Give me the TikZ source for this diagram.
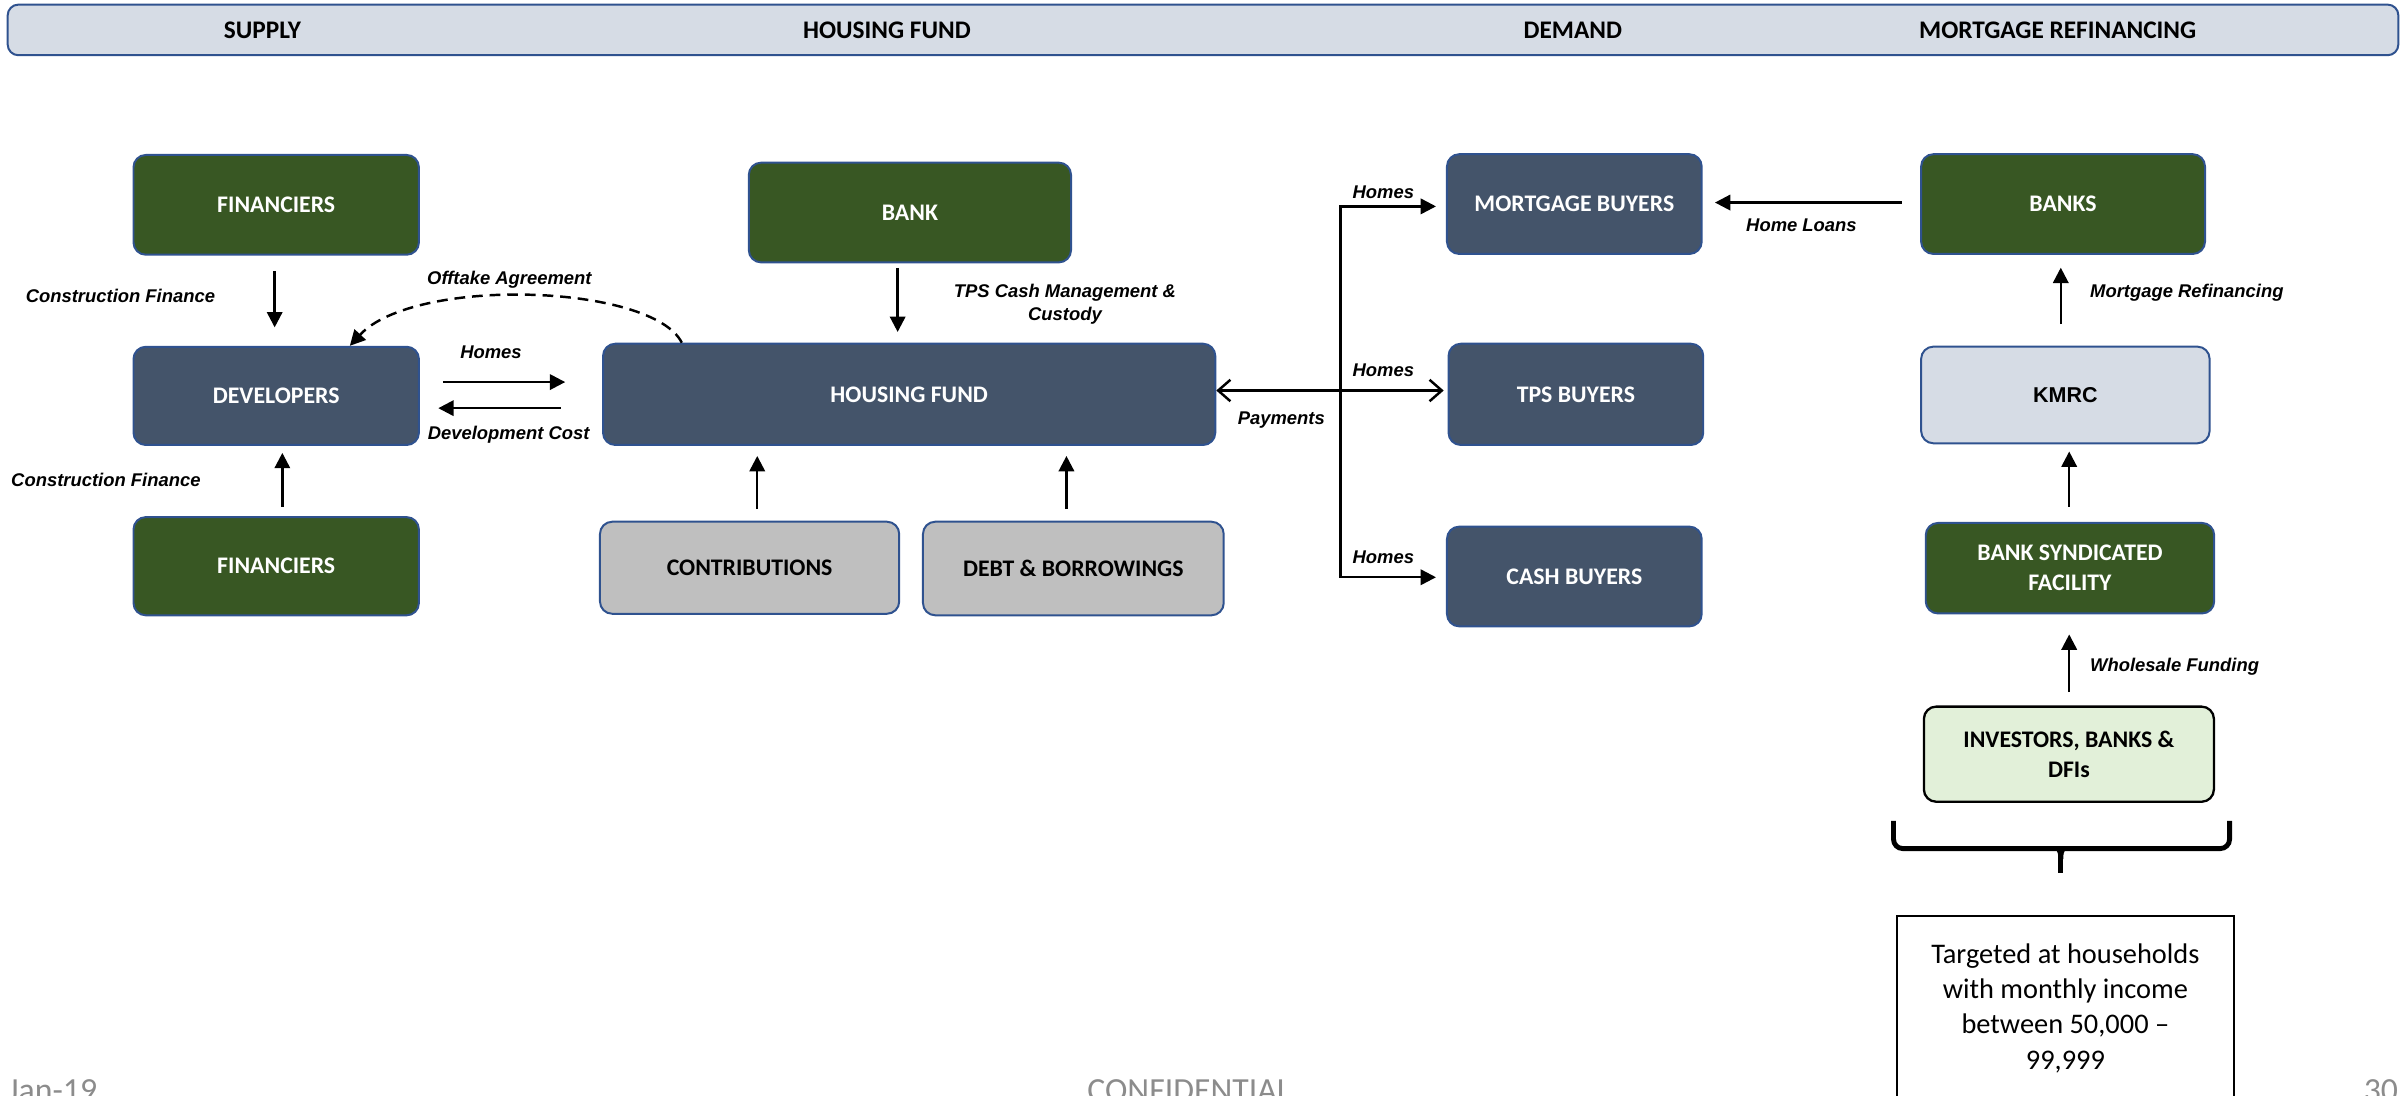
\documentclass[tikz,border=0pt]{standalone}
\usepackage{fontspec}
\setmainfont{Carlito}
\newfontfamily\arialfont{Liberation Sans}
\usetikzlibrary{arrows.meta,calc}
\definecolor{boxgreen}{HTML}{385723}
\definecolor{boxslate}{HTML}{44546A}
\definecolor{boxline}{HTML}{2F528F}
\definecolor{boxgrey}{HTML}{BFBFBF}
\definecolor{boxlight}{HTML}{D6DCE5}
\definecolor{boxmint}{HTML}{E2F0D9}
\definecolor{footgrey}{HTML}{8C8C8C}
\begin{document}
\begin{tikzpicture}[x=1pt,y=-1pt,
  base/.style={draw=boxline, line width=1.3pt, rounded corners=8pt, align=center, inner sep=0pt,
    font=\fontsize{15.5}{19.5}\selectfont\bfseries},
  greenbox/.style={base, fill=boxgreen, text=white},
  slatebox/.style={base, fill=boxslate, text=white},
  greybox/.style={base, fill=boxgrey, text=black},
  lightbox/.style={base, fill=boxlight, text=black, font=\arialfont\fontsize{14}{17}\selectfont\bfseries},
  mintbox/.style={base, draw=black, line width=1.5pt, fill=boxmint, text=black},
  hdrlbl/.style={font=\fontsize{16.5}{20}\selectfont\bfseries, inner sep=0pt},
  lbl/.style={font=\arialfont\fontsize{12}{15}\selectfont\bfseries\itshape, inner sep=0pt, align=center},
  arr/.style={line width=1.6pt, -{Triangle[length=10pt,width=10pt]}},
  openarr/.style={line width=1.6pt, {Straight Barb[length=8pt,width=14pt]}-{Straight Barb[length=8pt,width=14pt]}},
  bracestroke/.style={line width=3.2pt, line cap=round},
  footlbl/.style={font=\fontsize{22}{26}\selectfont, text=footgrey, inner sep=0pt}
]
\useasboundingbox (0,0) rectangle (1568,714.2);

% header
\node[draw=boxline, fill=boxlight, line width=1.3pt, rounded corners=7pt, minimum width=1558pt, minimum height=33pt, inner sep=0pt] (hdr) at (784,19.5) {};
\node[hdrlbl] (hSupply) at (171,19.5) {SUPPLY};
\node[hdrlbl] (hFund) at (578,19.5) {HOUSING FUND};
\node[hdrlbl] (hDemand) at (1025,19.5) {DEMAND};
\node[hdrlbl] (hRefi) at (1341,19.5) {MORTGAGE REFINANCING};

% supply
\node[greenbox, minimum width=186pt, minimum height=65pt] (finT) at (180,133.5) {FINANCIERS};
\node[slatebox, minimum width=186pt, minimum height=64pt] (dev) at (180,258) {DEVELOPERS};
\node[greenbox, minimum width=186pt, minimum height=64pt] (finB) at (180,369) {FINANCIERS};

% housing fund
\node[greenbox, minimum width=210pt, minimum height=65pt] (bank) at (593,138.5) {BANK};
\node[slatebox, minimum width=399pt, minimum height=66pt] (hf) at (592.5,257) {HOUSING FUND};
\node[greybox, minimum width=195pt, minimum height=60pt] (contrib) at (488.5,370) {CONTRIBUTIONS};
\node[greybox, minimum width=196pt, minimum height=61pt] (debt) at (699.5,370.5) {DEBT \& BORROWINGS};

% demand
\node[slatebox, minimum width=166pt, minimum height=65pt] (mb) at (1026,133) {MORTGAGE BUYERS};
\node[slatebox, minimum width=166pt, minimum height=66pt] (tps) at (1027,257) {TPS BUYERS};
\node[slatebox, minimum width=166pt, minimum height=65pt] (cash) at (1026,375.7) {CASH BUYERS};

% refinancing
\node[greenbox, minimum width=185pt, minimum height=65pt] (banks) at (1344.5,133) {BANKS};
\node[lightbox, minimum width=188pt, minimum height=63pt] (kmrc) at (1346,257.4) {KMRC};
\node[greenbox, minimum width=188pt, minimum height=59pt] (bsf) at (1349,370.3) {BANK SYNDICATED\\FACILITY};
\node[mintbox, minimum width=189pt, minimum height=62pt] (inv) at (1348.3,491.5) {INVESTORS, BANKS \&\\DFIs};
\node[draw=black, line width=1.2pt, minimum width=220pt, minimum height=120pt, inner sep=0pt, align=center,
  font=\fontsize{18.5}{23}\selectfont] (target) at (1346,657) {Targeted at households\\with monthly income\\between 50,000 –\\99,999};

% labels
\node[lbl] (lCF1) at (78.5,193) {Construction Finance};
\node[lbl] (lCF2) at (69,313) {Construction Finance};
\node[lbl] (lOff) at (332,182.5) {Offtake Agreement};
\node[lbl] (lHomes) at (320,229.5) {Homes};
\node[lbl] (lDev) at (331.5,283.5) {Development Cost};
\node[lbl] (lTPS) at (694,198.5) {TPS Cash Management \&\\Custody};
\node[lbl] (lPay) at (835,273.5) {Payments};
\node[lbl] (lH1) at (901.5,125.6) {Homes};
\node[lbl] (lH2) at (901.5,241.5) {Homes};
\node[lbl] (lH3) at (901.5,363.2) {Homes};
\node[lbl] (lHL) at (1174,146.6) {Home Loans};
\node[lbl, anchor=west] (lMR) at (1362,190.7) {Mortgage Refinancing};
\node[lbl, anchor=west] (lWF) at (1362,434.5) {Wholesale Funding};

% supply connectors
\draw[arr, shorten <=10pt, shorten >=12pt] ([xshift=-1pt]finT.south) -- ([xshift=-1pt]dev.north);
\draw[arr, shorten <=6pt, shorten >=4.5pt] ([xshift=4pt]finB.north) -- ([xshift=4pt]dev.south);
\draw[arr, shorten <=15pt, shorten >=24pt] ([yshift=9pt]dev.east) -- ([yshift=9pt]dev.east -| hf.west);
\draw[arr, shorten <=27pt, shorten >=12pt] ([yshift=-8pt]dev.east -| hf.west) -- ([yshift=-8pt]dev.east);
\draw[line width=1.6pt, dash pattern=on 7pt off 4.5pt, -{Triangle[length=10pt,width=10pt]}]
  ([xshift=52pt]hf.north west) .. controls (425,185) and (270,180) .. ([xshift=48pt]dev.north);

% fund connectors
\draw[arr, shorten <=3pt, shorten >=7pt] ([xshift=-8pt]bank.south) -- ([xshift=-8pt]bank.south |- hf.north);
\draw[arr, shorten <=7.5pt, shorten >=6.5pt] ([xshift=5pt]contrib.north) -- ([xshift=5pt]contrib.north |- hf.south);
\draw[arr, shorten <=7.5pt, shorten >=6.5pt] ([xshift=-4.5pt]debt.north) -- ([xshift=-4.5pt]debt.north |- hf.south);

% demand connectors
\draw[openarr, shorten >=2.5pt] ([yshift=2.5pt]hf.east) -- ([yshift=2.5pt]hf.east -| tps.west);
\path ([yshift=2.5pt]hf.east) -- ([yshift=2.5pt]hf.east -| tps.west) coordinate[pos=0.537] (jn);
\draw[arr, shorten >=6.5pt] (jn) |- ([yshift=-1.5pt]mb.west);
\draw[arr, shorten >=6.5pt] (jn) |- ([yshift=-0.5pt]cash.west);
\draw[arr, shorten <=12pt, shorten >=8pt] ([yshift=1pt]banks.west) -- ([yshift=1pt]banks.west -| mb.east);

% refinancing connectors
\draw[arr, shorten <=14pt, shorten >=8.3pt] ([xshift=-3pt]kmrc.north) -- ([xshift=-3pt]kmrc.north |- banks.south);
\draw[arr, shorten <=10pt, shorten >=4.7pt] ([xshift=-0.5pt]bsf.north) -- ([xshift=-0.5pt]bsf.north |- kmrc.south);
\draw[arr, shorten <=8.7pt, shorten >=13pt] ([xshift=0.2pt]inv.north) -- ([xshift=0.2pt]inv.north |- bsf.south);

% brace
\draw[bracestroke, line cap=butt, rounded corners=6pt] (1234,535) -- (1234,553) -- (1453,553) -- (1453,535);
\draw[line width=3.2pt] (1343,553) -- (1343,569);
\fill (1334,551.4) .. controls (1340,551.4) and (1341.4,554) .. (1341.4,560) -- (1344.6,560) .. controls (1344.6,554) and (1346,551.4) .. (1352,551.4) -- cycle;

% footer
\node[footlbl, anchor=base west] (fDate) at (5,718) {Jan-19};
\node[footlbl, anchor=base] (fConf) at (775,718) {CONFIDENTIAL};
\node[footlbl, anchor=base east] (fPage) at (1563,718) {30};
\end{tikzpicture}
\end{document}
